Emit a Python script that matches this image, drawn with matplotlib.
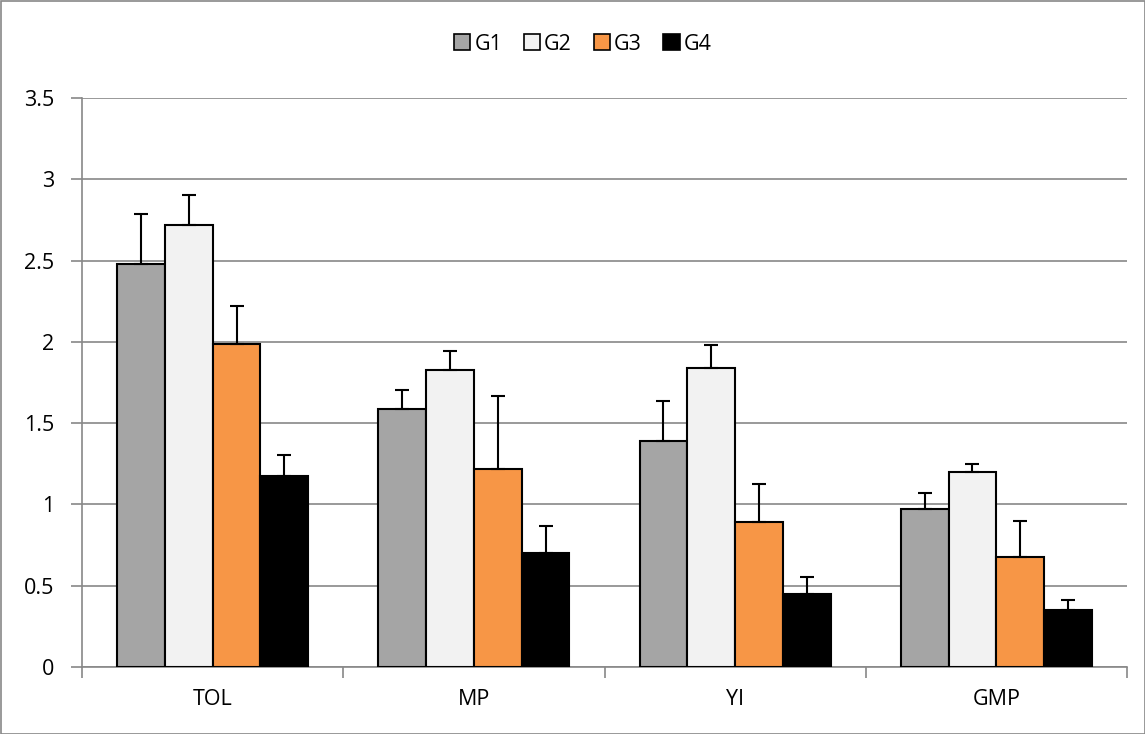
import matplotlib
matplotlib.use("Agg")
import matplotlib.pyplot as plt
import numpy as np
from matplotlib.patches import Rectangle

categories = ["TOL", "MP", "YI", "GMP"]
series = ["G1", "G2", "G3", "G4"]
g1 = [2.48, 1.59, 1.39, 0.97]
g2 = [2.72, 1.825, 1.84, 1.20]
g3 = [1.985, 1.215, 0.89, 0.677]
g4 = [1.175, 0.70, 0.45, 0.35]
g1_err = [0.305, 0.112, 0.245, 0.102]
g2_err = [0.182, 0.12, 0.142, 0.05]
g3_err = [0.235, 0.45, 0.233, 0.223]
g4_err = [0.13, 0.165, 0.105, 0.065]
yticks = [0, 0.5, 1, 1.5, 2, 2.5, 3, 3.5]
ytick_labels = ["0", "0.5", "1", "1.5", "2", "2.5", "3", "3.5"]

values = [g1, g2, g3, g4]
errors = [g1_err, g2_err, g3_err, g4_err]
colors = ["#A5A5A5", "#F2F2F2", "#F79646", "#000000"]

plt.rcParams['font.family'] = ['Open Sans', 'DejaVu Sans']
FS = 15.5

fig = plt.figure(figsize=(11.45, 7.34), dpi=100)
ax = fig.add_axes([82/1145, 1-667/734, (1127-82)/1145, (667-98)/734])

x = np.arange(len(categories))
bw = 0.183
for i, (vals, errs, c) in enumerate(zip(values, errors, colors)):
    pos = x + (i - 1.5) * bw
    ax.bar(pos, vals, width=bw, color=c, edgecolor="black", linewidth=1.5, zorder=3, label=series[i])
    ax.errorbar(pos, vals, yerr=[np.zeros(len(errs)), errs], fmt="none", ecolor="black",
                elinewidth=1.5, capsize=5, capthick=1.5, zorder=4)

ax.set_xlim(-0.5, len(categories) - 0.5)
ax.set_ylim(0, 3.5)
ax.set_yticks(yticks)
ax.set_yticklabels(ytick_labels)
ax.yaxis.grid(True, color="#888888", linewidth=1.2, zorder=0)
ax.set_axisbelow(True)

for s in ["top", "right"]:
    ax.spines[s].set_visible(False)
for s in ["left", "bottom"]:
    ax.spines[s].set_color("#888888")
    ax.spines[s].set_linewidth(1.2)

ax.set_xticks(x)
ax.set_xticklabels(categories)
ax.tick_params(axis="x", length=0, labelsize=FS, pad=16)
ax.set_xticks(np.arange(-0.5, len(categories)), minor=True)
ax.tick_params(axis="x", which="minor", length=8, color="#888888", width=1.2)
ax.tick_params(axis="y", length=8, color="#888888", width=1.2, labelsize=FS, pad=12)

handles = [Rectangle((0, 0), 1, 1, facecolor=c, edgecolor="black", linewidth=1.2) for c in colors]
fig.legend(handles, series, loc="center", bbox_to_anchor=(0.509, 1-44/734), ncol=4, frameon=False,
           fontsize=FS, handlelength=0.75, handleheight=0.75, handletextpad=0.2, columnspacing=1.0)

border = Rectangle((0.5/1145, 0.5/734), 1-1/1145, 1-1/734, transform=fig.transFigure,
                   fill=False, edgecolor="#888888", linewidth=1.2)
fig.patches.append(border)

fig.savefig("out.png", dpi=100)
